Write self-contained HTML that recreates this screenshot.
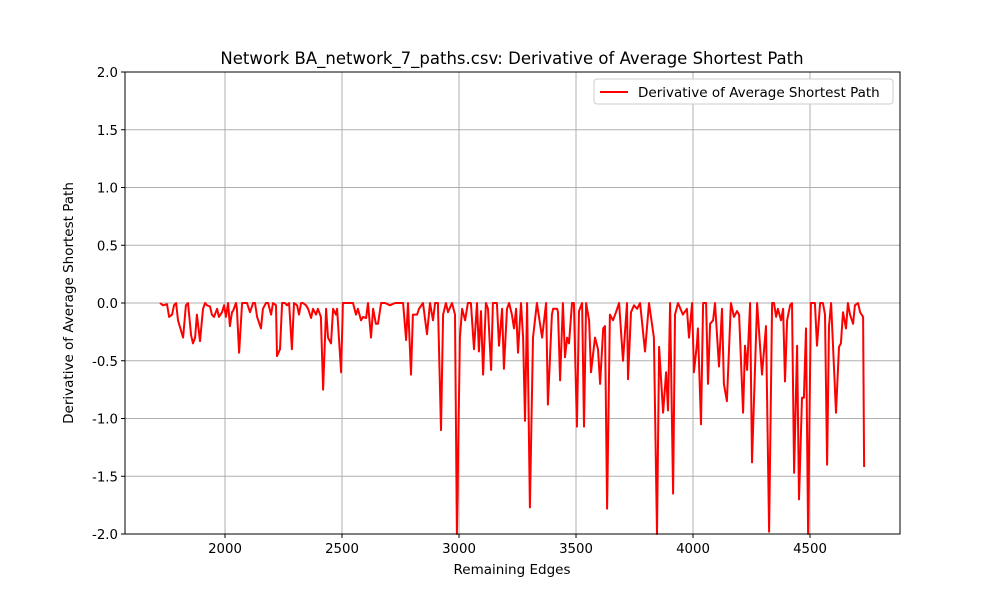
<!DOCTYPE html>
<html><head><meta charset="utf-8"><style>
body{margin:0;background:#fff}
svg text{font-family:"DejaVu Sans","Liberation Sans",sans-serif;fill:#000}
</style></head><body>
<svg id="chart" width="1000" height="600" viewBox="0 0 1000 600" xmlns="http://www.w3.org/2000/svg">
<rect width="1000" height="600" fill="#fff"/>
<g id="grid"></g>
<g id="ticks"></g>
<path id="line" fill="none" stroke="#ff0000" stroke-width="2" stroke-linejoin="round"/>
<rect x="125" y="72" width="775" height="462" fill="none" stroke="#000" stroke-width="1"/>
<text x="512" y="64" font-size="16.5" text-anchor="middle">Network BA_network_7_paths.csv: Derivative of Average Shortest Path</text>
<text x="512" y="574" font-size="13.5" text-anchor="middle">Remaining Edges</text>
<text x="73" y="303" font-size="13.5" text-anchor="middle" transform="rotate(-90 73 303)">Derivative of Average Shortest Path</text>
<g>
<rect x="594" y="79" width="299" height="25" rx="3" fill="#fff" stroke="#ccc"/>
<line x1="600" y1="92" x2="628" y2="92" stroke="#ff0000" stroke-width="2"/>
<text x="638" y="97" font-size="13.5">Derivative of Average Shortest Path</text>
</g>
</svg>
<script>
const xs=[1722,1735,1752,1761,1774,1782,1791,1799,1821,1833,1842,1855,1863,1872,1880,1893,1906,1915,1923,1936,1944,1953,1966,1974,1987,1996,2004,2013,2021,2030,2034,2047,2051,2060,2073,2086,2094,2107,2120,2128,2137,2154,2162,2175,2184,2197,2205,2218,2222,2235,2244,2256,2265,2274,2286,2295,2308,2316,2325,2333,2346,2355,2368,2376,2389,2397,2410,2419,2432,2440,2453,2462,2474,2479,2496,
2504,2526,2547,2560,2568,2581,2590,2603,2611,2624,2633,2645,2654,2667,2684,2705,2727,2748,2761,2774,2782,2795,2803,2821,2829,2846,2863,2876,2889,2898,2910,2923,2932,2944,2953,2970,2983,2991,3004,3013,3026,3038,3051,3064,3077,3085,3094,3103,3115,3124,3137,3145,3162,3171,3184,3192,3205,3214,3226,3235,3244,3252,3265,3274,3282,3291,3303,3316,3333,
3355,3372,3380,3397,3402,3419,3423,3432,3444,3453,3462,3470,3483,3491,3504,3513,3526,3534,3543,3556,3564,3581,3594,3603,3616,3624,3633,3645,3658,3671,3684,3701,3718,3722,3735,3748,3761,3774,3795,3812,3833,3846,3855,3872,3885,3893,3902,3915,3923,3936,3957,3974,3983,3996,4004,4017,4021,4034,4043,4056,4064,4073,4086,4094,4111,4124,4132,4145,4162,4175,4188,4197,4214,4222,4231,4244,4252,4274,4295,4312,4325,4338,4346,4355,4363,4376,4385,4393,4402,4415,4423,4432,4445,4453,4466,4474,4483,4492,4504,4521,4530,4543,4555,4564,4573,4581,4590,4611,4624,4632,4641,4654,4662,4671,4684,4692,4705,4714,4727,4731];
const ys=[0,-0.02,-0.01,-0.12,-0.1,-0.02,0,-0.15,-0.3,-0.02,0,-0.28,-0.35,-0.3,-0.1,-0.33,-0.05,0,-0.02,-0.03,-0.1,-0.12,-0.05,-0.12,-0.08,-0.02,-0.12,0,-0.2,-0.08,-0.07,0,-0.05,-0.43,0,0,0,-0.08,0,0,-0.12,-0.22,-0.05,0,0,-0.1,0,-0.02,-0.46,-0.4,0,0,-0.02,0,-0.4,0,-0.02,-0.1,0,0,-0.02,-0.05,-0.13,-0.05,-0.1,-0.05,-0.12,-0.75,-0.05,-0.3,-0.35,-0.05,-0.1,-0.05,-0.6,
0,0,0,-0.1,-0.05,-0.15,-0.12,-0.13,0,-0.3,-0.05,-0.18,-0.18,0,0,-0.02,0,0,0,-0.32,0,-0.62,-0.1,-0.1,-0.05,0,-0.27,0,-0.15,0,0,-1.1,-0.1,0,-0.08,0,-0.1,-2.0,-0.3,-0.05,-0.15,0,0,-0.4,0,-0.42,-0.07,-0.62,0,-0.05,-0.58,0,0,-0.37,-0.05,-0.57,-0.05,0,-0.1,-0.22,-0.05,-0.43,0,-0.3,-1.02,0,-1.77,-0.3,0,
-0.3,0,-0.88,-0.1,-0.05,-0.05,-0.08,-0.67,0,-0.47,-0.3,-0.35,0,0,-1.07,-0.07,0,-1.07,0,-0.15,-0.6,-0.3,-0.4,-0.7,-0.22,-0.2,-1.78,-0.1,-0.15,-0.08,0,-0.5,0,-0.66,-0.08,-0.02,-0.05,0,-0.42,0,-0.3,-2.0,-0.38,-0.95,-0.6,-0.93,0,-1.65,-0.1,0,-0.1,-0.05,-0.3,0,-0.6,-0.35,-0.22,-1.05,0,0,-0.7,-0.18,-0.15,0,-0.55,-0.05,-0.7,-0.85,0,-0.12,-0.07,-0.1,-0.95,-0.37,-0.58,0,-1.38,0,-0.62,-0.2,-1.98,0,0,-0.12,-0.05,-0.15,-0.05,-0.68,-0.15,-0.02,0,-1.47,-0.37,-1.7,-0.82,-0.82,-0.22,-2.0,0,0,-0.37,0,0,-0.1,-1.4,-0.2,0,-0.95,-0.38,-0.35,-0.08,-0.22,0,-0.1,-0.18,-0.02,0,-0.08,-0.12,-1.42];
const xTicks=[2000,2500,3000,3500,4000,4500];
const yTicks=[-2.0,-1.5,-1.0,-0.5,0.0,0.5,1.0,1.5,2.0];
const L=125,R=900,T=72,B=534;
const xMin=1572.6,xMax=4884.6,yMin=-2,yMax=2;
const sx=v=>L+(v-xMin)/(xMax-xMin)*(R-L);
const sy=v=>B-(v-yMin)/(yMax-yMin)*(B-T);
const NS='http://www.w3.org/2000/svg';
const grid=document.getElementById('grid'),ticks=document.getElementById('ticks');
function mk(tag,attrs,parent){const e=document.createElementNS(NS,tag);for(const k in attrs)e.setAttribute(k,attrs[k]);parent.appendChild(e);return e;}
xTicks.forEach(v=>{const x=sx(v);
const g=mk('line',{x1:x,x2:x,y1:T,y2:B,stroke:'#b0b0b0','stroke-width':1},grid);


mk('line',{x1:x,x2:x,y1:B,y2:B+4,stroke:'#000'},ticks);
const t=mk('text',{x:x,y:B+19,'font-size':13.3,'text-anchor':'middle'},ticks);


t.textContent=v;});
yTicks.forEach(v=>{const y=sy(v);
const g=mk('line',{x1:L,x2:R,y1:y,y2:y,stroke:'#b0b0b0','stroke-width':1},grid);


mk('line',{x1:L-4,x2:L,y1:y,y2:y,stroke:'#000'},ticks);
const t=mk('text',{x:L-7,y:y+5,'font-size':13.3,'text-anchor':'end'},ticks);


t.textContent=v.toFixed(1);});
let d='';xs.forEach((x,i)=>{d+=(i?'L':'M')+sx(x).toFixed(1)+','+Math.max(T,Math.min(B,sy(ys[i]))).toFixed(1);});
document.getElementById('line').setAttribute('d',d);
</script>
</body></html>
